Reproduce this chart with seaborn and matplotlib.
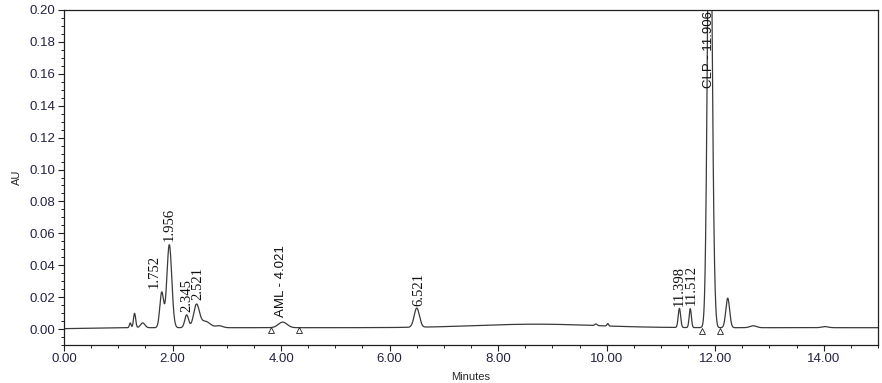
import numpy as np
import pandas as pd
import matplotlib
matplotlib.use("Agg")
import matplotlib.pyplot as plt
import seaborn as sns
from matplotlib.ticker import MultipleLocator, FormatStrFormatter

# ---------------------------------------------------------------
# Peak table (minutes, AU, sigma in min)
# ---------------------------------------------------------------
peak_rt     = [1.22, 1.30, 1.45, 1.80, 1.94, 2.26, 2.44, 2.60, 2.86,
               4.03, 6.50, 8.70, 9.80, 10.02, 11.34, 11.54, 11.90,
               11.99, 12.23, 12.70, 14.02]
peak_height = [0.003, 0.009, 0.003, 0.022, 0.052, 0.008, 0.014, 0.004,
               0.0012, 0.0035, 0.012, 0.0022, 0.0010, 0.0015, 0.0120,
               0.0118, 0.318, 0.006, 0.0185, 0.0012, 0.0007]
peak_sigma  = [0.015, 0.020, 0.040, 0.035, 0.045, 0.035, 0.052, 0.090,
               0.060, 0.080, 0.048, 1.100, 0.020, 0.015, 0.022, 0.020,
               0.0415, 0.025, 0.035, 0.060, 0.060]
baseline_au = 0.0009

# integration markers (baseline start / end)
marker_rt = [3.81, 4.33, 11.76, 12.09]
marker_au = [-0.0008, -0.0008, -0.0012, -0.0012]

# peak labels
label_text = ["1.752", "1.956", "2.345", "2.521", "AML - 4.021", "6.521",
              "11.398", "11.512", "CLP - 11.906"]
label_x    = [1.67, 1.94, 2.26, 2.47, 4.00, 6.54, 11.33, 11.56, 11.88]
label_y    = [0.026, 0.055, 0.011, 0.018, 0.0073, 0.0144, 0.0144,
              0.0154, 0.151]
label_named = [False, False, False, False, True, False, False, False, True]

# ---------------------------------------------------------------
# build trace
# ---------------------------------------------------------------
t = np.linspace(0, 15, 6001)
au = np.full_like(t, baseline_au)
au[t < 1.0] -= 0.0006 * (1.0 - t[t < 1.0])
for rt, h, s in zip(peak_rt, peak_height, peak_sigma):
    au += h * np.exp(-0.5 * ((t - rt) / s) ** 2)
trace = pd.DataFrame({"Minutes": t, "AU": au})

sns.set_style("ticks")
plt.rcParams["font.family"] = ["Liberation Sans", "DejaVu Sans"]

fig = plt.figure(figsize=(8.82, 3.83), dpi=100)
ax = fig.add_axes([0.0726, 0.099, 0.9229, 0.875])

sns.lineplot(data=trace, x="Minutes", y="AU", ax=ax, color="#3a3a3a",
             linewidth=0.9, estimator=None, sort=False)
ax.scatter(marker_rt, marker_au, marker="^", s=18, facecolors="white",
           edgecolors="#202020", linewidths=0.6, zorder=3)

for txt, x, y, named in zip(label_text, label_x, label_y, label_named):
    if named:
        ax.text(x, y, txt, rotation=90, ha="center", va="bottom",
                fontsize=9.5, family=["Liberation Sans"], color="#101010",
                clip_on=True)
    else:
        ax.text(x, y, txt, rotation=90, ha="center", va="bottom",
                fontsize=10.5, family=["Liberation Serif"], color="#101010",
                clip_on=True)

ax.set_xlim(0, 15)
ax.set_ylim(-0.01, 0.20)
ax.xaxis.set_major_locator(MultipleLocator(2))
ax.xaxis.set_minor_locator(MultipleLocator(0.5))
ax.yaxis.set_major_locator(MultipleLocator(0.02))
ax.yaxis.set_minor_locator(MultipleLocator(0.005))
ax.xaxis.set_major_formatter(FormatStrFormatter("%.2f"))
ax.yaxis.set_major_formatter(FormatStrFormatter("%.2f"))
ax.tick_params(axis="both", which="major", length=4, width=0.8, pad=2,
               labelsize=9.5, colors="#202020", labelcolor="#222244")
ax.tick_params(axis="both", which="minor", length=2.5, width=0.7,
               colors="#202020")
for sp in ax.spines.values():
    sp.set_visible(True)
    sp.set_linewidth(0.9)
    sp.set_color("#202020")

ax.set_xlabel("Minutes", fontsize=8, labelpad=5)
ax.set_ylabel("AU", fontsize=8, labelpad=6)

fig.savefig("out.png", dpi=100)
